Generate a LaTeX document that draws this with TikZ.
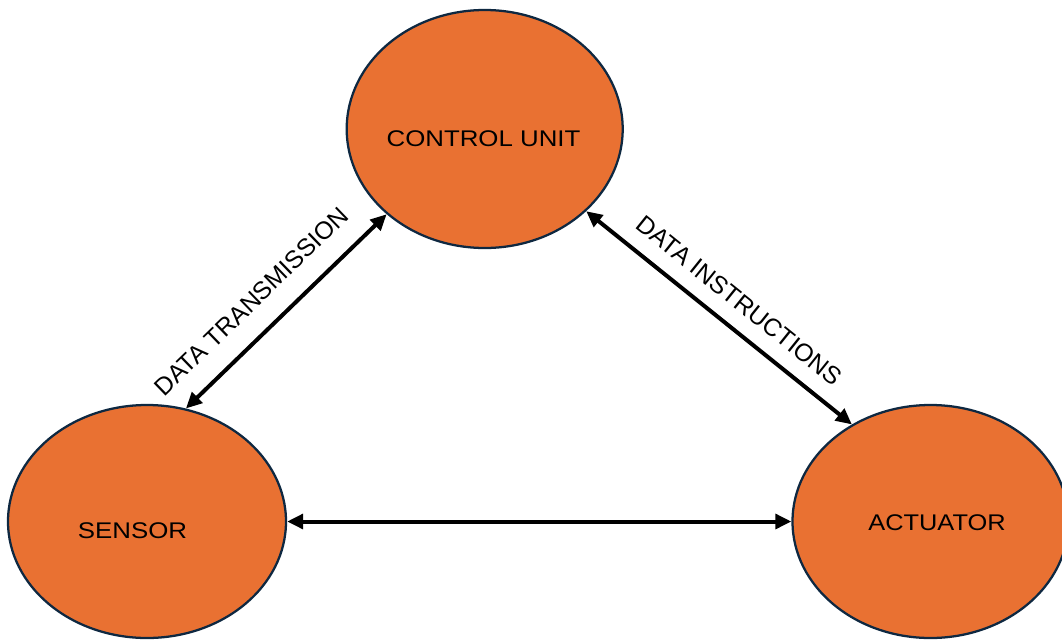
\documentclass[tikz,border=0pt]{standalone}
\usepackage{fontspec}
\setmainfont{Liberation Sans}
\usetikzlibrary{shapes.geometric,arrows.meta}
\definecolor{unitfill}{HTML}{E97132}
\definecolor{unitedge}{HTML}{0E2841}
\begin{document}
\begin{tikzpicture}[x=0.75pt,y=-0.75pt,
  unit/.style={ellipse, draw=unitedge, fill=unitfill, line width=1.7pt, inner sep=0pt},
  caption/.style={font=\fontsize{17}{20}\selectfont, inner sep=0pt, text=black},
  linkcaption/.style={font=\fontsize{18.6}{22}\selectfont, inner sep=0pt, text=black, sloped},
  link/.style={line width=3pt, {Triangle[length=12pt,width=11pt]}-{Triangle[length=12pt,width=11pt]}},
]
\useasboundingbox (0,0) rectangle (1062,639);
\fill[white] (0,0) rectangle (1062,639);

% the three units
\node[unit, minimum width=207pt, minimum height=178.5pt] (cu) at (484.7,129) {};
\node[unit, minimum width=208.5pt, minimum height=174.75pt] (sen) at (147,521.5) {};
\node[unit, minimum width=207pt, minimum height=174.75pt] (act) at (930.5,521.5) {};

% unit names
\node[caption, xscale=1.14] (cutext) at (483.5,139) {CONTROL UNIT};
\node[caption, xscale=1.14] (sentext) at (132.5,531) {SENSOR};
\node[caption, xscale=1.12] (acttext) at (937,523) {ACTUATOR};

% links between the units
\draw[link] (sen.71) -- node[linkcaption, pos=0.435, above=15.5pt] (lbltx) {DATA TRANSMISSION} (cu.221);
\draw[link] (cu.-39.7) -- node[linkcaption, pos=0.515, above=11.5pt] (lblin) {DATA INSTRUCTIONS} (act.129.3);
\draw[link] (sen.0) -- (act.180);
\end{tikzpicture}
\end{document}
